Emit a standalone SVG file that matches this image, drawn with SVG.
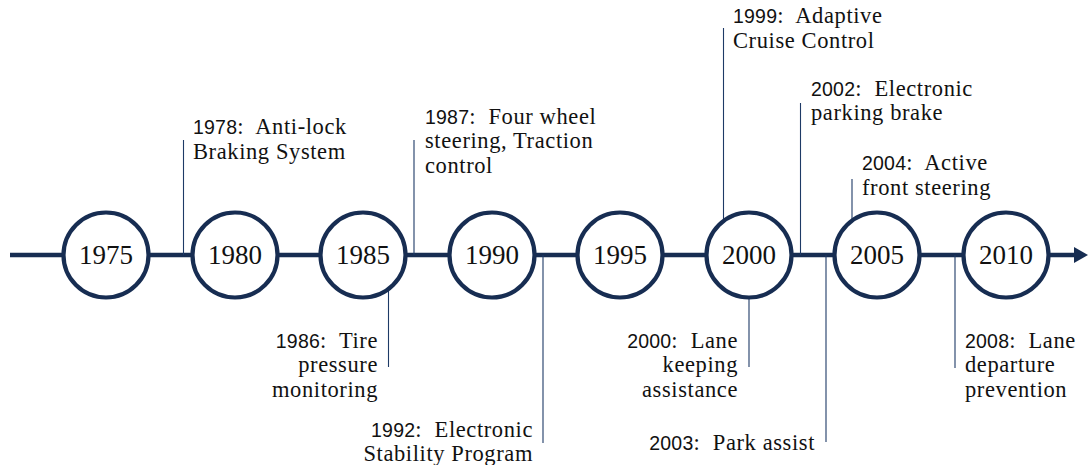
<svg xmlns="http://www.w3.org/2000/svg" width="1090" height="465" viewBox="0 0 1090 465">
<style>
.c{fill:#fff;stroke:#172d52;stroke-width:4.2}
.ct{font-family:"Liberation Serif",serif;font-size:27px;fill:#111;text-anchor:middle}
.l{font-family:"Liberation Serif",serif;font-size:22.5px;fill:#111;letter-spacing:0.6px}
.y{font-family:"Liberation Sans",sans-serif;font-size:19.5px;letter-spacing:0.2px}
.r{text-anchor:end}
.v{stroke:#1e3a66;stroke-width:1.1;fill:none}
.m{stroke:#172d52;stroke-width:4.5;fill:none}
</style>
<defs>
<marker id="ah" markerUnits="userSpaceOnUse" markerWidth="14" markerHeight="16" refX="3" refY="8" orient="auto">
<path d="M0,0 L14,8 L0,16 Z" fill="#172d52"/>
</marker>
</defs>
<g id="connectors">
<line class="m" x1="10" y1="255" x2="1077" y2="255" marker-end="url(#ah)"/>
<line class="v" x1="183.5" y1="140" x2="183.5" y2="255"/>
<line class="v" x1="414" y1="140" x2="414" y2="255"/>
<line class="v" x1="388.5" y1="290" x2="388.5" y2="367"/>
<line class="v" x1="543" y1="255" x2="543" y2="443"/>
<line class="v" x1="723.5" y1="28" x2="723.5" y2="221"/>
<line class="v" x1="749" y1="298" x2="749" y2="367"/>
<line class="v" x1="800.5" y1="103" x2="800.5" y2="255"/>
<line class="v" x1="826" y1="255" x2="826" y2="442"/>
<line class="v" x1="852" y1="179" x2="852" y2="220"/>
<line class="v" x1="955" y1="255" x2="955" y2="368"/>
</g>
<g id="n1975"><circle class="c" cx="106" cy="255" r="42.5"/><text class="ct" x="106" y="264">1975</text></g>
<g id="n1980"><circle class="c" cx="235" cy="255" r="42.5"/><text class="ct" x="235" y="264">1980</text></g>
<g id="n1985"><circle class="c" cx="363" cy="255" r="42.5"/><text class="ct" x="363" y="264">1985</text></g>
<g id="n1990"><circle class="c" cx="492" cy="255" r="42.5"/><text class="ct" x="492" y="264">1990</text></g>
<g id="n1995"><circle class="c" cx="620" cy="255" r="42.5"/><text class="ct" x="620" y="264">1995</text></g>
<g id="n2000"><circle class="c" cx="749" cy="255" r="42.5"/><text class="ct" x="749" y="264">2000</text></g>
<g id="n2005"><circle class="c" cx="877" cy="255" r="42.5"/><text class="ct" x="877" y="264">2005</text></g>
<g id="n2010"><circle class="c" cx="1006" cy="255" r="42.5"/><text class="ct" x="1006" y="264">2010</text></g>
<g id="e1978"><text class="l" x="193" y="134"><tspan class="y">1978</tspan>:&#160; Anti-lock</text><text class="l" x="193" y="159">Braking System</text></g>
<g id="e1987"><text class="l" x="425" y="124"><tspan class="y">1987</tspan>:&#160; Four wheel</text><text class="l" x="425" y="148">steering, Traction</text><text class="l" x="425" y="173">control</text></g>
<g id="e1986"><text class="l r" x="378" y="348"><tspan class="y">1986</tspan>:&#160; Tire</text><text class="l r" x="378" y="372">pressure</text><text class="l r" x="378" y="397">monitoring</text></g>
<g id="e1992"><text class="l r" x="533" y="437"><tspan class="y">1992</tspan>:&#160; Electronic</text><text class="l r" x="533" y="461">Stability Program</text></g>
<g id="e1999"><text class="l" x="733" y="23"><tspan class="y">1999</tspan>:&#160; Adaptive</text><text class="l" x="733" y="48">Cruise Control</text></g>
<g id="e2000"><text class="l r" x="738" y="348"><tspan class="y">2000</tspan>:&#160; Lane</text><text class="l r" x="738" y="372">keeping</text><text class="l r" x="738" y="397">assistance</text></g>
<g id="e2002"><text class="l" x="811" y="96"><tspan class="y">2002</tspan>:&#160; Electronic</text><text class="l" x="811" y="120">parking brake</text></g>
<g id="e2003"><text class="l r" x="815" y="450"><tspan class="y">2003</tspan>:&#160; Park assist</text></g>
<g id="e2004"><text class="l" x="862" y="170"><tspan class="y">2004</tspan>:&#160; Active</text><text class="l" x="862" y="195">front steering</text></g>
<g id="e2008"><text class="l" x="965" y="348"><tspan class="y">2008</tspan>:&#160; Lane</text><text class="l" x="965" y="372">departure</text><text class="l" x="965" y="397">prevention</text></g>
</svg>
